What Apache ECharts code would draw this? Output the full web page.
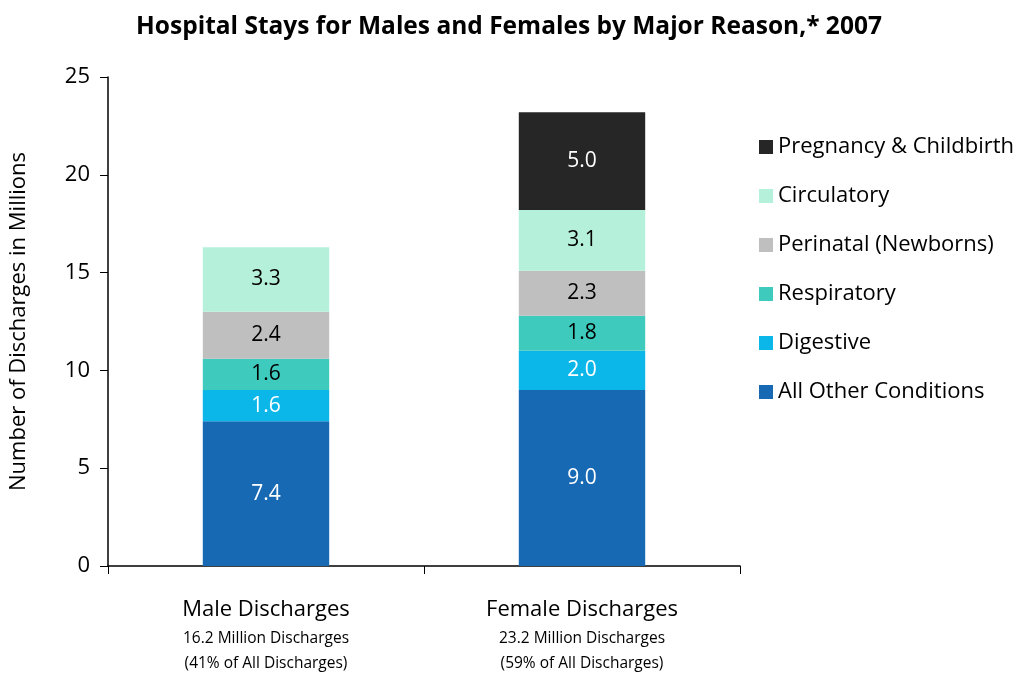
<!DOCTYPE html>
<html lang="en">
<head>
	<meta charset="UTF-8">
	<title>Hospital Stays</title>
	<script src="https://cdn.jsdelivr.net/npm/echarts@6/dist/echarts.min.js"></script>
	<style>
		html, body { margin: 0; padding: 0; background: #fff; }
		#chart { width: 1024px; height: 675px; }
	</style>
</head>
<body>
	<div id="chart"></div>

	<script>
		var categories = ['Male Discharges', 'Female Discharges'];
		var totalsText = ['16.2 Million Discharges', '23.2 Million Discharges'];
		var shareText = ['(41% of All Discharges)', '(59% of All Discharges)'];

		// bottom to top
		var reasons = ['All Other Conditions', 'Digestive', 'Respiratory', 'Perinatal (Newborns)', 'Circulatory', 'Pregnancy & Childbirth'];
		var allOther = [7.4, 9.0];
		var digestive = [1.6, 2.0];
		var respiratory = [1.6, 1.8];
		var perinatal = [2.4, 2.3];
		var circulatory = [3.3, 3.1];
		var pregnancy = [null, 5.0];

		var colors = ['#1769b4', '#0bb7e9', '#3ecbbd', '#bfbfbf', '#b5f0da', '#262626'];
		var labelColors = ['#fff', '#fff', '#000', '#000', '#000', '#fff'];
		var values = [allOther, digestive, respiratory, perinatal, circulatory, pregnancy];

		var font = 'Open Sans';

		var series = reasons.map(function (name, i) {
			return {
				name: name,
				type: 'bar',
				stack: 'total',
				barWidth: '40%',
				itemStyle: { color: colors[i] },
				label: {
					show: true,
					position: 'inside',
					color: labelColors[i],
					fontFamily: font,
					fontSize: 21,
					formatter: function (p) { return p.value == null ? '' : p.value.toFixed(1); }
				},
				data: values[i].map(function (v) { return v == null ? '-' : v; })
			};
		});

		var chart = echarts.init(document.getElementById('chart'));
		chart.setOption({
			animation: false,
			title: {
				text: 'Hospital Stays for Males and Females by Major Reason,* 2007',
				left: 504,
				textAlign: 'center',
				top: 10,
				textStyle: { fontFamily: font, fontWeight: 'bold', fontSize: 24.5, color: '#000' }
			},
			legend: {
				orient: 'vertical',
				left: 754,
				top: 130,
				itemWidth: 14,
				itemHeight: 14,
				itemGap: 25,
				icon: 'rect',
				data: reasons.slice().reverse(),
				textStyle: { fontFamily: font, fontSize: 22, color: '#000', lineHeight: 24 }
			},
			grid: { left: 108, right: 284, top: 77, bottom: 109 },
			xAxis: {
				type: 'category',
				data: categories,
				axisLine: { lineStyle: { color: '#000', width: 1.5 } },
				axisTick: { show: true, length: 8, lineStyle: { color: '#000' } },
				axisLabel: {
					margin: 28,
					interval: 0,
					formatter: function (v, i) {
						return '{a|' + v + '}\n{b|' + totalsText[i] + '}\n{b|' + shareText[i] + '}';
					},
					rich: {
						a: { fontFamily: font, fontSize: 22, color: '#000', lineHeight: 32 },
						b: { fontFamily: font, fontSize: 15.5, color: '#000', lineHeight: 25 }
					}
				}
			},
			yAxis: {
				type: 'value',
				min: 0,
				max: 25,
				interval: 5,
				name: 'Number of Discharges in Millions',
				nameLocation: 'middle',
				nameGap: 78,
				nameTextStyle: { fontFamily: font, fontSize: 22, color: '#000' },
				splitLine: { show: false },
				axisLine: { show: true, lineStyle: { color: '#000', width: 1.5 } },
				axisTick: { show: true, length: 8, lineStyle: { color: '#000' } },
				axisLabel: { fontFamily: font, fontSize: 22, color: '#000', margin: 18 }
			},
			series: series
		});
	</script>
</body>
</html>
